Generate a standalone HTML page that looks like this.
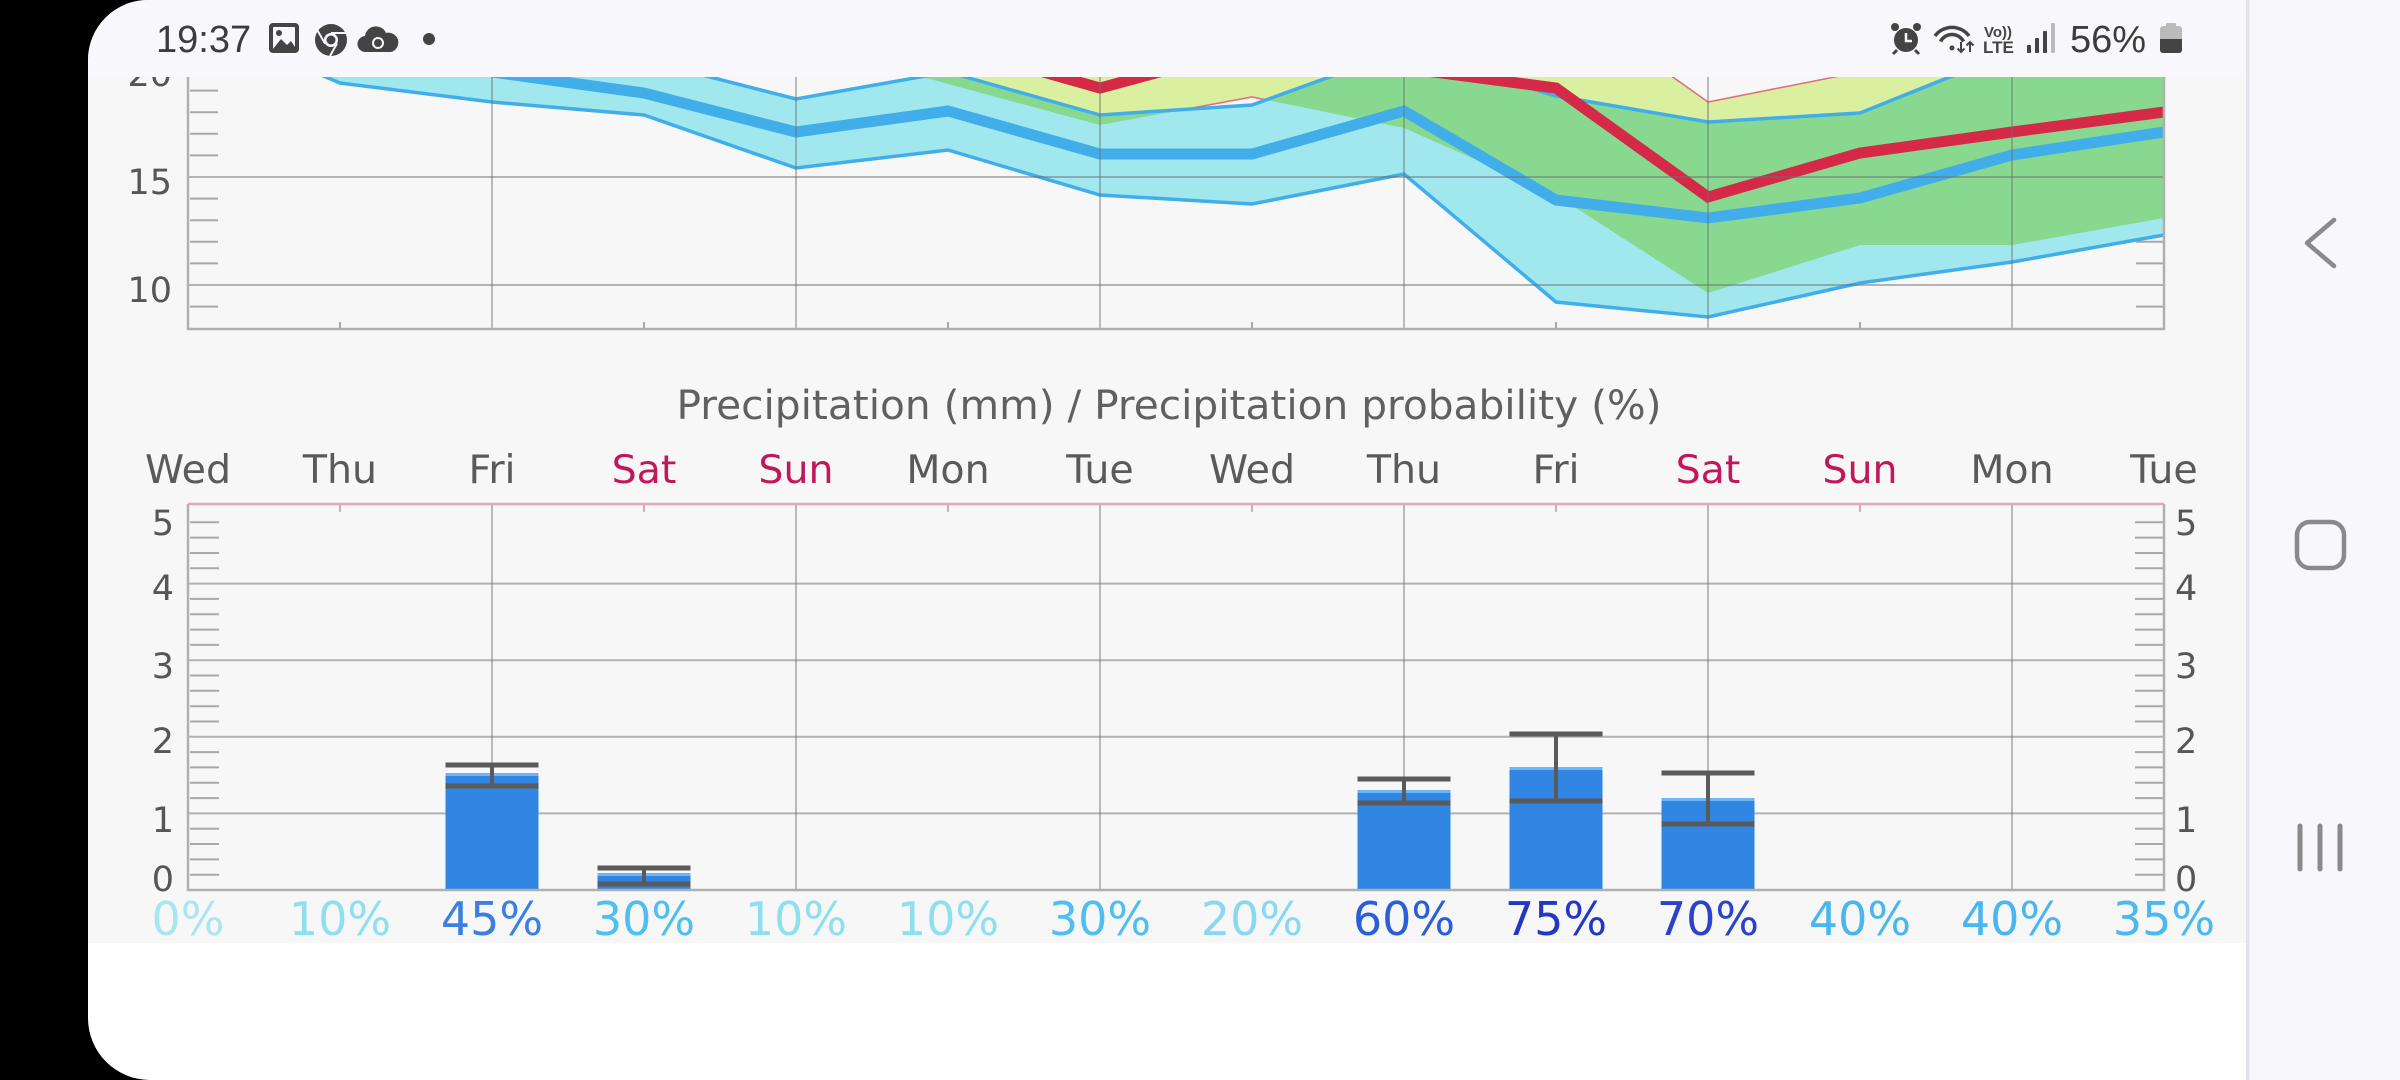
<!DOCTYPE html>
<html>
<head>
<meta charset="utf-8">
<style>
html,body{margin:0;padding:0;background:#000;}
body{width:2400px;height:1080px;overflow:hidden;}
svg{display:block;}
.ax{font-family:"DejaVu Sans","Liberation Sans",sans-serif;}
.sb{font-family:"Liberation Sans","DejaVu Sans",sans-serif;}
</style>
</head>
<body>
<svg width="2400" height="1080" viewBox="0 0 2400 1080" xmlns="http://www.w3.org/2000/svg">
<defs>
  <clipPath id="panel">
    <path d="M148,0 H2400 V1080 H150 A62,62 0 0 1 88,1018 V60 A60,60 0 0 1 148,0 Z"/>
  </clipPath>
  <clipPath id="pc">
    <rect x="188" y="40" width="1976" height="289"/>
  </clipPath>
  <clipPath id="cc">
    <polygon points="188,-20 340,0 492,30 644,60 796,99 948,72 1100,115 1252,105 1404,50 1556,96 1708,122 1860,113 2012,52 2164,30 2164,235 2012,262 1860,283 1708,317 1556,302 1404,174 1252,204 1100,195 948,150 796,168 644,115 492,102 340,83 188,18"/>
  </clipPath>
</defs>

<rect x="0" y="0" width="2400" height="1080" fill="#000"/>

<g clip-path="url(#panel)">
  <!-- base backgrounds -->
  <rect x="88" y="0" width="2312" height="1080" fill="#ffffff"/>
  <rect x="88" y="77" width="2160" height="866" fill="#f7f7f7"/>

  <!-- ===== Temperature chart ===== -->
  <!-- minor ticks (under fills) -->
  <path d="M190,90.6h28M190,112.2h28M190,133.8h28M190,155.4h28M190,198.6h28M190,220.2h28M190,241.8h28M190,263.4h28M190,306.6h28
           M2136,90.6h28M2136,112.2h28M2136,133.8h28M2136,155.4h28M2136,198.6h28M2136,220.2h28M2136,241.8h28M2136,263.4h28M2136,306.6h28"
        stroke="#a8a8a8" stroke-width="2" fill="none"/>
  <path d="M340,322v7M644,322v7M948,322v7M1252,322v7M1556,322v7M1860,322v7" stroke="#a8a8a8" stroke-width="2"/>

  <g clip-path="url(#pc)">
    <!-- yellow band (model B) -->
    <polygon fill="#d9f0a0" points="188,-40 340,-40 492,-40 644,-40 796,-40 948,-40 1100,-40 1252,-40 1404,-30 1556,-6 1708,102 1860,72 2012,40 2164,30 2164,218 2012,245 1860,245 1708,293 1556,195 1404,128 1252,97 1100,125 948,84 796,41 644,20 492,20 340,20 188,20"/>
    <polyline fill="none" stroke="#e2707e" stroke-width="1.6" points="188,-40 1252,-40 1404,-30 1556,-6 1708,102 1860,72 2012,40 2164,30"/>
    <polyline fill="none" stroke="#e2707e" stroke-width="1.6" points="188,20 644,20 796,41 948,84 1100,125 1252,97 1404,128 1556,195 1708,293 1860,245 2012,245 2164,218"/>
    <!-- cyan band (model A) -->
    <polygon fill="#a0e8ee" points="188,-20 340,0 492,30 644,60 796,99 948,72 1100,115 1252,105 1404,50 1556,96 1708,122 1860,113 2012,52 2164,30 2164,235 2012,262 1860,283 1708,317 1556,302 1404,174 1252,204 1100,195 948,150 796,168 644,115 492,102 340,83 188,18"/>
    <!-- overlap green -->
    <polygon fill="#88d890" clip-path="url(#cc)" points="188,-40 340,-40 492,-40 644,-40 796,-40 948,-40 1100,-40 1252,-40 1404,-30 1556,-6 1708,102 1860,72 2012,40 2164,30 2164,218 2012,245 1860,245 1708,293 1556,195 1404,128 1252,97 1100,125 948,84 796,41 644,20 492,20 340,20 188,20"/>
    <!-- cyan band bounds -->
    <polyline fill="none" stroke="#41aeea" stroke-width="3.5" points="188,-20 340,0 492,30 644,60 796,99 948,72 1100,115 1252,105 1404,50 1556,96 1708,122 1860,113 2012,52 2164,30"/>
    <polyline fill="none" stroke="#41aeea" stroke-width="3.5" points="188,18 340,83 492,102 644,115 796,168 948,150 1100,195 1252,204 1404,174 1556,302 1708,317 1860,283 2012,262 2164,235"/>
    <!-- medians -->
    <polyline fill="none" stroke="#41aeea" stroke-width="11" points="188,30 340,45 492,72 644,93 796,132 948,111 1100,154 1252,154 1404,111 1556,200 1708,218 1860,198 2012,155 2164,132"/>
    <polyline fill="none" stroke="#d42a48" stroke-width="11" points="188,0 340,0 492,0 644,0 796,10 948,45 1100,88 1252,47 1404,68 1556,88 1708,197 1860,153 2012,132 2164,112"/>
  </g>

  <!-- gridlines -->
  <path d="M188,177H2164M188,285H2164M188,69H2164" stroke="#6e6e6e" stroke-opacity="0.5" stroke-width="2"/>
  <path d="M492,60V329M796,60V329M1100,60V329M1404,60V329M1708,60V329M2012,60V329" stroke="#6e6e6e" stroke-opacity="0.55" stroke-width="1.6"/>
  <!-- axes -->
  <path d="M188,60V329H2164V60" fill="none" stroke="#b0b0b0" stroke-width="2.5"/>

  <!-- temp labels -->
  <g class="ax" font-size="35" fill="#565656" text-anchor="end">
    <text x="172" y="86">20</text>
    <text x="172" y="194">15</text>
    <text x="172" y="302">10</text>
  </g>

  <!-- ===== Precipitation chart ===== -->
  <text class="ax" x="1169" y="419" font-size="40" fill="#606060" text-anchor="middle" textLength="985" lengthAdjust="spacingAndGlyphs">Precipitation (mm) / Precipitation probability (%)</text>

  <g class="ax" font-size="39.5" text-anchor="middle" fill="#5a5a5a">
    <text x="188" y="483">Wed</text>
    <text x="340" y="483">Thu</text>
    <text x="492" y="483">Fri</text>
    <text x="644" y="483" fill="#c2185b">Sat</text>
    <text x="796" y="483" fill="#c2185b">Sun</text>
    <text x="948" y="483">Mon</text>
    <text x="1100" y="483">Tue</text>
    <text x="1252" y="483">Wed</text>
    <text x="1404" y="483">Thu</text>
    <text x="1556" y="483">Fri</text>
    <text x="1708" y="483" fill="#c2185b">Sat</text>
    <text x="1860" y="483" fill="#c2185b">Sun</text>
    <text x="2012" y="483">Mon</text>
    <text x="2164" y="483">Tue</text>
  </g>

  <!-- minor ticks -->
  <path d="M190,874.7h29M190,859.4h29M190,844h29M190,828.7h29M190,798.1h29M190,782.8h29M190,767.4h29M190,752.1h29M190,721.5h29M190,706.2h29M190,690.8h29M190,675.5h29M190,644.9h29M190,629.6h29M190,614.2h29M190,598.9h29M190,568.3h29M190,553h29M190,537.6h29M190,522.3h29
           M2135,874.7h29M2135,859.4h29M2135,844h29M2135,828.7h29M2135,798.1h29M2135,782.8h29M2135,767.4h29M2135,752.1h29M2135,721.5h29M2135,706.2h29M2135,690.8h29M2135,675.5h29M2135,644.9h29M2135,629.6h29M2135,614.2h29M2135,598.9h29M2135,568.3h29M2135,553h29M2135,537.6h29M2135,522.3h29"
        stroke="#a8a8a8" stroke-width="2" fill="none"/>
  <!-- gridlines -->
  <path d="M188,813.4H2164M188,736.8H2164M188,660.2H2164M188,583.6H2164" stroke="#6e6e6e" stroke-opacity="0.5" stroke-width="2"/>
  <path d="M492,504V890M796,504V890M1100,504V890M1404,504V890M1708,504V890M2012,504V890" stroke="#6e6e6e" stroke-opacity="0.55" stroke-width="1.6"/>
  <path d="M340,504v8M644,504v8M948,504v8M1252,504v8M1556,504v8M1860,504v8" stroke="#d8a8ba" stroke-width="2"/>

  <!-- bars -->
  <g fill="#3086e2">
    <rect x="445.5" y="773" width="93" height="117"/>
    <rect x="597.5" y="873" width="93" height="17"/>
    <rect x="1357.5" y="790" width="93" height="100"/>
    <rect x="1509.5" y="767" width="93" height="123"/>
    <rect x="1661.5" y="798" width="93" height="92"/>
  </g>
  <g fill="#6cb6f4">
    <rect x="445.5" y="773" width="93" height="3"/>
    <rect x="597.5" y="873" width="93" height="3"/>
    <rect x="1357.5" y="790" width="93" height="3"/>
    <rect x="1509.5" y="767" width="93" height="3"/>
    <rect x="1661.5" y="798" width="93" height="3"/>
  </g>
  <!-- error bars -->
  <g stroke="#5a5a5a" fill="none">
    <path stroke-width="5" d="M445.5,765h93M445.5,786h93M597.5,868h93M597.5,884h93M1357.5,779h93M1357.5,803h93M1509.5,734h93M1509.5,801h93M1661.5,773h93M1661.5,824h93"/>
    <path stroke-width="4" d="M492,765V786M644,868V884M1404,779V803M1556,734V801M1708,773V824"/>
  </g>

  <!-- axes -->
  <path d="M188,504V890H2164V504" fill="none" stroke="#b0b0b0" stroke-width="2.5"/>
  <path d="M188,504H2164" stroke="#e8a5bd" stroke-width="2.5"/>

  <!-- y labels -->
  <g class="ax" font-size="35" fill="#565656" text-anchor="end">
    <text x="174" y="535">5</text>
    <text x="174" y="600">4</text>
    <text x="174" y="678">3</text>
    <text x="174" y="753">2</text>
    <text x="174" y="832">1</text>
    <text x="174" y="891">0</text>
  </g>
  <g class="ax" font-size="35" fill="#565656" text-anchor="start">
    <text x="2175" y="535">5</text>
    <text x="2175" y="600">4</text>
    <text x="2175" y="678">3</text>
    <text x="2175" y="753">2</text>
    <text x="2175" y="832">1</text>
    <text x="2175" y="891">0</text>
  </g>

  <!-- probability labels -->
  <g class="ax" font-size="46" text-anchor="middle">
    <text x="188" y="935" fill="#a8e6f2">0%</text>
    <text x="340" y="935" fill="#8ee0f0">10%</text>
    <text x="492" y="935" fill="#3b7fe0">45%</text>
    <text x="644" y="935" fill="#4ebff0">30%</text>
    <text x="796" y="935" fill="#8ee0f0">10%</text>
    <text x="948" y="935" fill="#8ee0f0">10%</text>
    <text x="1100" y="935" fill="#4ebff0">30%</text>
    <text x="1252" y="935" fill="#88d8f4">20%</text>
    <text x="1404" y="935" fill="#2b5fd9">60%</text>
    <text x="1556" y="935" fill="#2238c4">75%</text>
    <text x="1708" y="935" fill="#2a42cc">70%</text>
    <text x="1860" y="935" fill="#4ab6f0">40%</text>
    <text x="2012" y="935" fill="#4ab6f0">40%</text>
    <text x="2164" y="935" fill="#4cb8f0">35%</text>
  </g>

  <!-- ===== Status bar ===== -->
  <rect x="88" y="0" width="2160" height="77" fill="#f8f8fc"/>
  <text class="sb" x="156" y="52" font-size="38" fill="#3c3c3c">19:37</text>
  <!-- gallery -->
  <rect x="269" y="23" width="30" height="30" rx="4" fill="#444"/>
  <rect x="273" y="27" width="22" height="22" rx="1" fill="#f8f8fc"/>
  <circle cx="279" cy="33" r="3" fill="#444"/>
  <polygon points="273,49 281,39 287,45 291,41 295,47 295,49" fill="#444"/>
  <!-- chrome -->
  <circle cx="331" cy="40" r="16" fill="#444"/>
  <circle cx="331" cy="40" r="7" fill="#f8f8fc"/>
  <circle cx="331" cy="40" r="4.5" fill="#444"/>
  <path d="M331,33H346M325,43.5L317.5,30.5M337,43.5L330,56" stroke="#f8f8fc" stroke-width="2" fill="none"/>
  <!-- cloud -->
  <path d="M366,52 a8,8 0 0 1 -1,-16 a11,11 0 0 1 21,-3 a9.5,9.5 0 0 1 5,19 Z" fill="#444"/>
  <circle cx="378" cy="43" r="5" fill="none" stroke="#f8f8fc" stroke-width="2"/>
  <circle cx="429" cy="39" r="6" fill="#444"/>

  <!-- right status -->
  <circle cx="1906" cy="40" r="12" fill="#444"/>
  <circle cx="1895" cy="27" r="4" fill="#444"/>
  <circle cx="1917" cy="27" r="4" fill="#444"/>
  <path d="M1897,50l-4,4M1915,50l4,4" stroke="#444" stroke-width="3"/>
  <path d="M1906,33V41H1912" stroke="#f8f8fc" stroke-width="2.5" fill="none"/>
  <path d="M1935,36 A21,21 0 0 1 1969,36 M1940.5,41.5 A13,13 0 0 1 1963.5,41.5" stroke="#444" stroke-width="3.5" fill="none"/>
  <circle cx="1952" cy="48" r="2.5" fill="#444"/>
  <path d="M1961,42V52M1957.5,48.5L1961,52L1964.5,48.5M1970,52V42M1966.5,45.5L1970,42L1973.5,45.5" stroke="#444" stroke-width="2" fill="none"/>
  <text class="sb" x="1984" y="37" font-size="15" font-weight="bold" fill="#444">Vo))</text>
  <text class="sb" x="1983" y="53" font-size="17" font-weight="bold" fill="#444">LTE</text>
  <rect x="2027" y="45" width="4" height="8" rx="1" fill="#444"/>
  <rect x="2035" y="38" width="4" height="15" rx="1" fill="#444"/>
  <rect x="2043" y="31" width="4" height="22" rx="1" fill="#444"/>
  <rect x="2051" y="23" width="4" height="30" rx="1" fill="#bbb"/>
  <text class="sb" x="2070" y="52" font-size="38" fill="#3c3c3c">56%</text>
  <rect x="2166" y="23" width="10" height="5" rx="1" fill="#bbb"/>
  <rect x="2160" y="26" width="22" height="27" rx="3" fill="#bbb"/>
  <path d="M2160,39H2182V50a3,3 0 0 1 -3,3H2163a3,3 0 0 1 -3,-3Z" fill="#444"/>

  <!-- ===== Nav bar ===== -->
  <rect x="2248" y="0" width="152" height="1080" fill="#f8f8fc"/>
  <rect x="2246" y="0" width="3.5" height="1080" fill="#e3e3eb"/>
  <polyline points="2334,220 2307,243 2334,266" fill="none" stroke="#8a8a8a" stroke-width="4.5" stroke-linecap="round" stroke-linejoin="round"/>
  <rect x="2297" y="522" width="47" height="46" rx="13" fill="none" stroke="#8a8a8a" stroke-width="4.5"/>
  <path d="M2300,826V869M2320,826V869M2340,826V869" stroke="#8a8a8a" stroke-width="5" stroke-linecap="round"/>
</g>
</svg>
</body>
</html>
